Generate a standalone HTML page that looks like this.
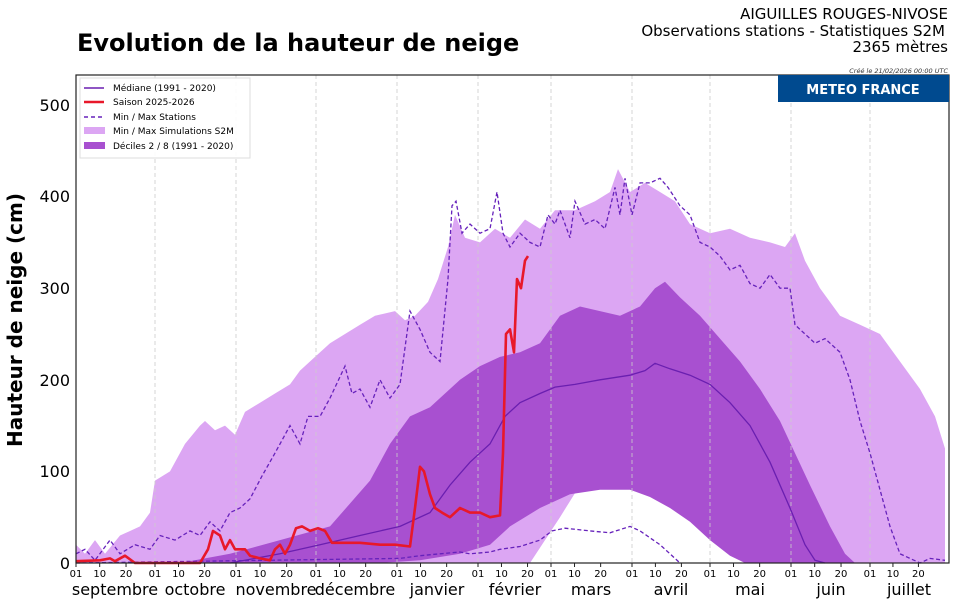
<!DOCTYPE html>
<html><head><meta charset="utf-8"><style>
body{margin:0;background:#fff;width:960px;height:604px;overflow:hidden;font-family:"DejaVu Sans","Liberation Sans",sans-serif}
</style></head><body>
<svg id="s" width="960" height="604" xmlns="http://www.w3.org/2000/svg" font-family="DejaVu Sans, Liberation Sans, sans-serif">
<rect width="960" height="604" fill="#fff"/>
<text x="77" y="51" font-size="24" font-weight="bold">Evolution de la hauteur de neige</text>
<text x="948" y="19" font-size="15" text-anchor="end">AIGUILLES ROUGES-NIVOSE</text>
<text x="945" y="36" font-size="15" text-anchor="end">Observations stations - Statistiques S2M</text>
<text x="948" y="52" font-size="15" text-anchor="end">2365 mètres</text>
<text x="948" y="73" font-size="6.5" font-style="italic" text-anchor="end" fill="#333">Créé le 21/02/2026 00:00 UTC</text>
<g id="plot"></g>
<rect x="76" y="75" width="873" height="488" fill="none" stroke="#222" stroke-width="1.2"/>
<rect x="778" y="75" width="171" height="27" fill="#004a8f"/>
<text x="863" y="94" font-size="13" font-weight="bold" fill="#fff" text-anchor="middle">METEO FRANCE</text>
<g font-size="16" text-anchor="end">
<text x="70" y="569">0</text><text x="70" y="477">100</text><text x="70" y="386">200</text><text x="70" y="294">300</text><text x="70" y="202">400</text><text x="70" y="111">500</text>
</g>
<text transform="translate(22,320) rotate(-90)" font-size="20" font-weight="bold" text-anchor="middle">Hauteur de neige (cm)</text>
<g id="xt" font-size="10" text-anchor="middle"></g>
<g font-size="16" text-anchor="middle">
<text x="115" y="595">septembre</text><text x="195" y="595">octobre</text><text x="276" y="595">novembre</text><text x="355" y="595">décembre</text><text x="437" y="595">janvier</text><text x="515" y="595">février</text><text x="591" y="595">mars</text><text x="671" y="595">avril</text><text x="750" y="595">mai</text><text x="831" y="595">juin</text><text x="909" y="595">juillet</text>
</g>
<g>
<rect x="80" y="78" width="170" height="80" fill="#fff" fill-opacity="0.9" stroke="#ddd"/>
<g font-size="9">
<line x1="84" y1="88" x2="104" y2="88" stroke="#6a1fb0" stroke-width="1.5"/><text x="113" y="91">Médiane (1991 - 2020)</text>
<line x1="84" y1="102" x2="104" y2="102" stroke="#e8182a" stroke-width="2.5"/><text x="113" y="105">Saison 2025-2026</text>
<line x1="84" y1="117" x2="104" y2="117" stroke="#6622bb" stroke-width="1.5" stroke-dasharray="4,3"/><text x="113" y="120">Min / Max Stations</text>
<rect x="84" y="127" width="21" height="7" fill="#dca6f3"/><text x="113" y="134">Min / Max Simulations S2M</text>
<rect x="84" y="142" width="21" height="7" fill="#a850d0"/><text x="113" y="149">Déciles 2 / 8  (1991 - 2020)</text>
</g></g>
</svg>
<script>
const Y=v=>563-v*0.916;
const P=a=>a.map(p=>p[0]+','+Y(p[1]).toFixed(1)).join(' ');
const maxS=[[76,20],[85,10],[95,25],[105,10],[120,30],[140,40],[150,55],[155,90],[170,100],[185,130],[200,150],[205,155],[215,145],[225,150],[235,140],[245,165],[260,175],[275,185],[290,195],[300,210],[315,225],[330,240],[345,250],[360,260],[375,270],[395,275],[405,265],[415,270],[428,285],[438,310],[448,345],[455,380],[465,355],[480,350],[495,365],[510,355],[525,375],[540,365],[555,385],[575,385],[595,395],[610,405],[618,430],[630,405],[645,415],[660,405],[675,395],[690,370],[710,360],[730,365],[750,355],[770,350],[785,345],[795,360],[805,330],[820,300],[840,270],[860,260],[880,250],[900,220],[920,190],[935,160],[945,125],[945,0]];
const minS=[[790,0],[775,5],[760,25],[745,50],[730,75],[715,90],[700,95],[680,100],[660,110],[640,120],[630,110],[615,115],[600,105],[580,85],[560,50],[545,25],[530,0],[76,0]];
const decU=[[180,0],[230,10],[280,25],[330,40],[370,90],[390,130],[410,160],[430,170],[445,185],[460,200],[480,215],[500,225],[520,230],[540,240],[560,270],[580,280],[600,275],[620,270],[640,280],[655,300],[665,307],[680,290],[700,270],[720,245],[740,220],[760,190],[780,155],[795,120],[810,85],[830,40],[845,10],[855,0]];
const decL=[[745,0],[730,8],[710,25],[690,45],[670,60],[650,72],[630,80],[600,80],[570,75],[540,60],[510,40],[490,20],[460,10],[420,3],[380,0]];
const med=[[230,0],[280,10],[320,20],[360,30],[400,40],[430,55],[450,85],[470,110],[490,130],[505,160],[520,175],[540,185],[555,192],[575,195],[600,200],[630,205],[645,210],[655,218],[670,212],[690,205],[710,195],[730,175],[750,150],[770,110],[790,60],[805,20],[815,3],[825,0]];
const maxSt=[[76,10],[85,15],[95,3],[110,25],[120,10],[135,20],[150,15],[160,30],[175,25],[190,35],[200,30],[210,45],[220,35],[230,55],[240,60],[250,70],[262,95],[275,120],[290,150],[300,130],[308,160],[320,160],[330,180],[345,215],[352,185],[360,190],[370,170],[380,200],[390,180],[400,195],[410,275],[420,255],[430,230],[440,220],[448,310],[452,390],[456,395],[462,360],[470,370],[480,360],[490,365],[497,405],[503,360],[510,345],[520,360],[530,350],[540,345],[548,380],[555,370],[560,385],[570,355],[575,395],[585,370],[595,375],[605,365],[615,410],[620,380],[625,420],[632,380],[640,415],[650,415],[660,420],[668,410],[680,390],[690,380],[700,350],[710,345],[720,335],[730,320],[740,325],[750,305],[760,300],[770,315],[780,300],[790,300],[795,260],[805,250],[815,240],[825,245],[840,230],[850,200],[860,155],[870,120],[880,80],[890,40],[900,10],[910,5],[920,0],[930,5],[945,3]];
const minSt=[[76,0],[400,5],[420,8],[440,10],[460,12],[470,10],[490,12],[500,15],[520,18],[540,25],[552,35],[565,38],[590,35],[610,33],[630,40],[640,35],[660,20],[675,5],[680,0]];
const red=[[76,2],[100,3],[110,5],[115,2],[125,8],[135,0],[200,0],[208,15],[213,35],[220,30],[225,15],[230,25],[235,15],[245,15],[250,8],[260,5],[270,3],[275,15],[280,20],[285,10],[290,20],[296,38],[302,40],[310,35],[318,38],[325,35],[332,22],[340,22],[360,22],[380,20],[395,20],[410,18],[415,60],[420,105],[424,100],[430,75],[435,60],[442,55],[450,50],[460,60],[470,55],[480,55],[490,50],[500,52],[503,120],[506,250],[510,255],[514,230],[517,310],[521,300],[525,330],[528,335]];
const months=[76,155,236,316,397,478,551,632,710,791,870];
const len=[30,31,30,31,31,28,31,30,31,30,31];
let g='';
g+=`<polygon points="${P(maxS)} ${P(minS)}" fill="#dca6f3"/>`;
g+=`<polygon points="${P(decU)} ${P(decL)}" fill="#a850d0"/>`;
months.slice(1).forEach(x=>g+=`<line x1="${x}" y1="75" x2="${x}" y2="563" stroke="#ccc" stroke-width="1" stroke-dasharray="4,3" opacity="0.8"/>`);
g+=`<polyline points="${P(med)}" fill="none" stroke="#6a1fb0" stroke-width="1.3"/>`;
g+=`<polyline points="${P(maxSt)}" fill="none" stroke="#6622bb" stroke-width="1.3" stroke-dasharray="4,2.5"/>`;
g+=`<polyline points="${P(minSt)}" fill="none" stroke="#6622bb" stroke-width="1.3" stroke-dasharray="4,2.5"/>`;
g+=`<polyline points="${P(red)}" fill="none" stroke="#e8182a" stroke-width="2.6" stroke-linejoin="round"/>`;
document.getElementById('plot').innerHTML=g;
let t='';
months.forEach((x,i)=>{const w=(i<10?months[i+1]:949)-x;[[0,'01'],[9,'10'],[19,'20']].forEach(([d,l])=>{const xx=x+w*d/len[i];t+=`<line x1="${xx}" y1="563" x2="${xx}" y2="567" stroke="#222"/><text x="${xx}" y="577">${l}</text>`;});});
document.getElementById('xt').innerHTML=t;
</script>
</body></html>
